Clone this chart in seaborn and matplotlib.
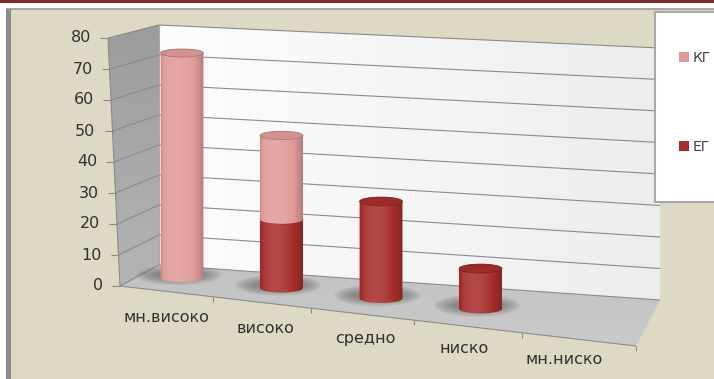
import numpy as np
import pandas as pd
import matplotlib
matplotlib.use("Agg")
import matplotlib.pyplot as plt
import matplotlib.colors as mcolors
from matplotlib.patches import Polygon, Rectangle, Ellipse, Patch
from matplotlib.transforms import Affine2D
import seaborn as sns

# ---- data ----
categories = ["мн.високо", "високо", "средно", "ниско", "мн.ниско"]
eg_values = [0, 22, 30, 12, 0]     # ЕГ (lower segment)
kg_values = [75, 27, 0, 0, 0]      # КГ (stacked on top of ЕГ)
series_names = ["КГ", "ЕГ"]
y_ticks = [0, 10, 20, 30, 40, 50, 60, 70, 80]

KG_COLOR = "#e09a99"
EG_COLOR = "#a62e2c"
W, H = 714, 379

sns.set_theme(style="white")
plt.rcParams["font.family"] = ["DejaVu Sans"]

fig = plt.figure(figsize=(W / 100, H / 100), dpi=100, facecolor="white")

# ---------- background layer in pixel coordinates (y grows downwards) ----------
bg = fig.add_axes([0, 0, 1, 1], zorder=0)
bg.set_xlim(0, W)
bg.set_ylim(H, 0)
bg.set_autoscale_on(False)
bg.axis("off")


def gradient_fill(axis, verts, c0, c1, vertical=False, z=1.0):
    poly = Polygon(verts, closed=True, facecolor="none", edgecolor="none", zorder=z)
    axis.add_patch(poly)
    xs = [v[0] for v in verts]
    ys = [v[1] for v in verts]
    a = np.array(mcolors.to_rgb(c0))
    b = np.array(mcolors.to_rgb(c1))
    t = np.linspace(0, 1, 256)[:, None]
    cols = a * (1 - t) + b * t
    img = cols[:, None, :] if vertical else cols[None, :, :]
    im = axis.imshow(img, extent=(min(xs), max(xs), max(ys), min(ys)),
                     aspect="auto", interpolation="bilinear", zorder=z)
    im.set_clip_path(poly)
    return poly


# chart area frame
bg.add_patch(Rectangle((0, 0), W, 3, facecolor="#7a2b28", edgecolor="none", zorder=1))
bg.add_patch(Rectangle((7, 9), W, H, facecolor="#ddd9c4", edgecolor="#9a9a9a",
                       lw=1.2, zorder=1))
bg.add_patch(Rectangle((6, 9), 5, H, facecolor="#8c8c8c", edgecolor="none", zorder=1.1))

# 3-D box: left wall, back wall, floor
vmax = y_ticks[-1]


def back_left(v):
    return (159, 265 - (265 - 25) * v / vmax)


def back_right(v):
    return (660, 300 - (300 - 48) * v / vmax)


def front(v):
    return (120 - 12 * v / vmax, 286 - (286 - 38) * v / vmax)


front_right = (636, 346)

gradient_fill(bg, [back_left(vmax), back_right(vmax), back_right(0), back_left(0)],
              "#fdfdfd", "#ededed", z=2)
gradient_fill(bg, [front(vmax), back_left(vmax), back_left(0), front(0)],
              "#9c9c9c", "#b4b4b4", vertical=True, z=2)
gradient_fill(bg, [front(0), back_left(0), back_right(0), front_right],
              "#c2c2c2", "#cacaca", vertical=True, z=2)

grid_kw = dict(color="#8a8a8a", lw=0.8, zorder=3, solid_capstyle="butt")
for v in y_ticks:
    p0, p1, p2 = front(v), back_left(v), back_right(v)
    bg.plot([p0[0], p1[0], p2[0]], [p0[1], p1[1], p2[1]], **grid_kw)
    # tick mark and label on the front edge of the left wall
    bg.plot([p0[0] - 8, p0[0]], [p0[1], p0[1]], **grid_kw)
    bg.text(p0[0] - 17, p0[1], str(v), ha="right", va="center",
            fontsize=11.5, color="#303030", zorder=4)

bg.plot([front(0)[0], front(vmax)[0]], [front(0)[1], front(vmax)[1]], **grid_kw)
bg.plot([back_left(0)[0], back_left(vmax)[0]], [back_left(0)[1], back_left(vmax)[1]],
        color="#9a9a9a", lw=0.6, zorder=3)
bg.plot([front(0)[0], front_right[0]], [front(0)[1], front_right[1]], **grid_kw)

# category ticks along the front edge of the floor (mild perspective)
n_cat = len(categories)
for j in range(1, n_cat + 1):
    t = j / n_cat
    g = t * (1 - 0.125) + 0.125 * t * t
    tx = front(0)[0] + (front_right[0] - front(0)[0]) * g
    ty = front(0)[1] + (front_right[1] - front(0)[1]) * g
    bg.plot([tx, tx], [ty, ty + 5], **grid_kw)

# ---------- bars ----------
X0_PX, BASE_PX, STEP_PX, UNIT_PX = 182, 278, 99.5, 3.0
SLOPE = 10.3 / 99.5     # base drops to the right
PERSP = 0.0004          # nearer (right) bars look slightly taller
CAP_PX = 4.0

ax = fig.add_axes([0, 0, 1, 1], zorder=1)
ax.patch.set_alpha(0)

df = pd.DataFrame({"category": categories, "ЕГ": eg_values, "КГ": kg_values})
sns.barplot(data=df, x="category", y="ЕГ", order=categories, color=EG_COLOR,
            saturation=1, width=0.43, errorbar=None, ax=ax)
n_eg = len(ax.patches)
sns.barplot(data=df, x="category", y="КГ", order=categories, color=KG_COLOR,
            saturation=1, width=0.43, errorbar=None, ax=ax, bottom=eg_values)

ax.set_xlim(-X0_PX / STEP_PX, (W - X0_PX) / STEP_PX)
ax.set_ylim(-(H - BASE_PX) / UNIT_PX, BASE_PX / UNIT_PX)
ax.set_autoscale_on(False)
ax.axis("off")


def bar_transform(x_disp):
    d = x_disp - X0_PX
    base_y = H - BASE_PX
    return ax.transData + Affine2D().translate(0, -base_y).scale(1, 1 + PERSP * d) \
        .translate(0, base_y - SLOPE * d)


def darken(c, f):
    r, g, b = mcolors.to_rgb(c)
    return (r * f, g * f, b * f)


# horizontal lighting profile across a cylinder
u = np.linspace(0, 1, 80)
light = 0.13 - 0.8 * (u - 0.36) ** 2 - 0.14 * np.exp(-u / 0.05)
shade = np.zeros((1, u.size, 4))
shade[0, :, :3] = np.where(light[:, None] > 0, 1.0, 0.0)
shade[0, :, 3] = np.clip(np.abs(light), 0, 1)

b_cap = CAP_PX / UNIT_PX
t_low = np.linspace(np.pi, 2 * np.pi, 40)
t_up = np.linspace(0, np.pi, 40)

for k, p in enumerate(ax.patches):
    level = 0 if k < n_eg else 1
    x, w, y0, h = p.get_x(), p.get_width(), p.get_y(), p.get_height()
    if h <= 0:
        p.set_visible(False)
        continue
    xc = x + w / 2
    xd = ax.transData.transform((xc, 0))[0]
    T = bar_transform(xd)
    y1 = y0 + h
    color = p.get_facecolor()
    z = 2 + 2 * level

    if y0 == 0:
        # soft shadow on the floor
        for j in range(6):
            ax.add_patch(Ellipse((xc - w * 0.08, y0 + 1.0), w * (2.0 - 0.16 * j),
                                 (20 - 2.5 * j) / UNIT_PX, transform=T,
                                 facecolor="#4a4a4a", alpha=0.10, edgecolor="none",
                                 zorder=1.5))

    verts = [(xc + w / 2 * np.cos(t), y0 + b_cap * np.sin(t)) for t in t_low] + \
            [(xc + w / 2 * np.cos(t), y1 + b_cap * np.sin(t)) for t in t_up]
    sil = Polygon(verts, closed=True, facecolor=color, edgecolor="none",
                  transform=T, zorder=z)
    ax.add_patch(sil)

    p.set_transform(T)
    p.set_linewidth(0)
    p.set_zorder(z + 0.1)
    p.set_clip_on(False)

    im = ax.imshow(shade, extent=(x, x + w, y0 - b_cap, y1 + b_cap), transform=T,
                   aspect="auto", interpolation="bilinear", zorder=z + 0.2)
    im.set_clip_path(sil)

    ax.add_patch(Ellipse((xc, y1), w, 2 * b_cap, transform=T,
                         facecolor=darken(color, 0.94), edgecolor=darken(color, 0.78),
                         lw=0.6, zorder=z + 0.3))

ax.set_xlim(-X0_PX / STEP_PX, (W - X0_PX) / STEP_PX)
ax.set_ylim(-(H - BASE_PX) / UNIT_PX, BASE_PX / UNIT_PX)

# category labels below the floor
for i, cat in enumerate(categories):
    xd = ax.transData.transform((i, 0))[0]
    px, py = bar_transform(xd).transform((i, 0))
    bg.text(px - 16, H - py + 40, cat, ha="center", va="center",
            fontsize=11.5, color="#303030", zorder=4)

# ---------- legend ----------
bg.add_patch(Rectangle((655, 12), 70, 190, facecolor="white", edgecolor="#a8a8a8",
                       lw=1.5, zorder=8))
handles = [Patch(facecolor=KG_COLOR, edgecolor="none"),
           Patch(facecolor=EG_COLOR, edgecolor="none")]
bg.legend(handles, series_names, loc="upper left",
          bbox_to_anchor=(679 / W, 1 - 51 / H), frameon=False, fontsize=10,
          handlelength=0.75, handleheight=0.75, handletextpad=0.25,
          labelspacing=5.4, borderpad=0, borderaxespad=0,
          labelcolor="#404040").set_zorder(9)

fig.savefig("out.png", dpi=100, facecolor=fig.get_facecolor())
